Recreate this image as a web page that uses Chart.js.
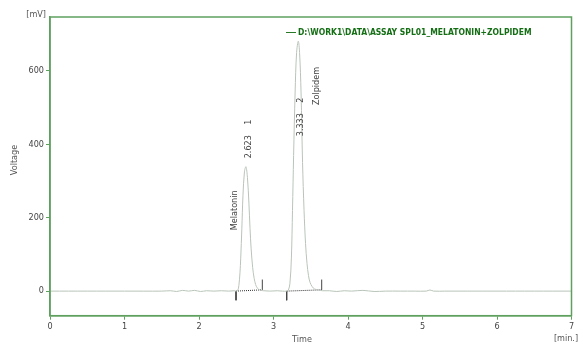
<!DOCTYPE html>
<html>
<head>
<meta charset="utf-8">
<script src="https://cdn.jsdelivr.net/npm/chart.js@4.4.1/dist/chart.umd.min.js"></script>
<style>
  html, body { margin: 0; padding: 0; background: #fff; }
  #wrap { width: 583px; height: 344px; }
</style>
</head>
<body>
<div id="wrap"><canvas id="chrom" width="583" height="344"></canvas></div>
<script>
// Dados do cromatograma (tempo em min, tensão em mV)
const tempos = [0, 0.5, 1.0, 1.5, 1.62, 1.7, 1.78, 1.86, 1.94, 2.02, 2.1, 2.2, 2.3, 2.4, 2.47,
  2.5, 2.52, 2.535, 2.55, 2.56, 2.575, 2.59, 2.61, 2.63, 2.65, 2.67, 2.685, 2.70, 2.72, 2.74, 2.76, 2.78, 2.80, 2.83, 2.87,
  2.95, 3.05, 3.12, 3.18, 3.20, 3.22, 3.24, 3.255, 3.27, 3.29, 3.31, 3.333, 3.35, 3.37, 3.39, 3.41, 3.43, 3.45, 3.47, 3.49, 3.52, 3.55, 3.60, 3.66,
  3.75, 3.85, 3.95, 4.05, 4.2, 4.35, 4.5, 4.7, 4.9, 5.05, 5.1, 5.15, 5.3, 5.6, 6.0, 6.5, 7.0];
const tensoes = [0, 0, 0, 0, 1, -1, 2, 0, 2, -1, 1, 0, 1, 0, 1,
  0, 2, 15, 50, 90, 170, 260, 325, 339, 310, 240, 170, 115, 65, 35, 18, 9, 5, 2, 1,
  0, 1, 0, 0, 3, 20, 90, 220, 370, 540, 650, 681, 650, 540, 350, 220, 130, 75, 42, 24, 12, 6, 3, 1,
  1, -1, 1, 0, 2, -1, 0, 0, 0, 0, 3, 0, 0, 0, 0, 0, 0];

// Integração: início e fim de cada pico
const picoInicio = [2.497, 3.177];
const picoFim = [2.85, 3.647];
const baseInicio = [0, 0];
const baseFim = [3.5, 3.5];

// Rótulos dos picos
const picoTempo = [2.623, 3.333];
const picoNumero = ['1', '2'];
const picoNome = ['Melatonin', 'Zolpidem'];

const xTicks = [0, 1, 2, 3, 4, 5, 6, 7];
const yTicks = [0, 200, 400, 600];
const nomeArquivo = 'D:\\WORK1\\DATA\\ASSAY SPL01_MELATONIN+ZOLPIDEM';

const verde = 'rgb(95,160,95)';
const fonteNarrow = "'Liberation Sans Narrow', 'DejaVu Sans Condensed', Arial, sans-serif";

const sinal = tempos.map((t, i) => ({ x: t, y: tensoes[i] }));

const datasets = [{
  data: sinal,
  borderColor: 'rgb(185,196,185)',
  borderWidth: 1,
  pointRadius: 0,
  tension: 0.35
}];

// linhas de base (pontilhadas) e marcas de início/fim
picoInicio.forEach((ini, i) => {
  datasets.push({
    data: [{ x: ini, y: baseInicio[i] }, { x: picoFim[i], y: baseFim[i] }],
    borderColor: '#333',
    borderWidth: 1,
    borderDash: [1, 1],
    pointRadius: 0
  });
  datasets.push({
    data: [{ x: ini, y: baseInicio[i] }, { x: ini, y: baseInicio[i] - 25 }],
    borderColor: '#444', borderWidth: 1, pointRadius: 0
  });
  datasets.push({
    data: [{ x: picoFim[i], y: baseFim[i] }, { x: picoFim[i], y: baseFim[i] + 28 }],
    borderColor: '#444', borderWidth: 1, pointRadius: 0
  });
});

// Plugin para moldura, textos e legenda
const extras = {
  id: 'extras',
  afterDatasetsDraw(chart) {
    const { ctx, chartArea: a, scales: { x, y } } = chart;
    ctx.save();
    // moldura verde
    ctx.strokeStyle = verde;
    ctx.lineWidth = 1.5;
    ctx.strokeRect(a.left, a.top, a.right - a.left, a.bottom - a.top);

    // legenda
    ctx.strokeStyle = 'rgb(40,120,40)';
    ctx.lineWidth = 1;
    ctx.beginPath();
    ctx.moveTo(286, 32.5);
    ctx.lineTo(296, 32.5);
    ctx.stroke();
    ctx.fillStyle = 'rgb(20,110,20)';
    ctx.font = 'bold 8.5px ' + fonteNarrow;
    ctx.textBaseline = 'middle';
    ctx.textAlign = 'left';
    ctx.fillText(nomeArquivo, 298, 32.5);

    // rótulos verticais dos picos
    ctx.fillStyle = '#444';
    ctx.font = '9px ' + fonteNarrow;
    const numPos = [[0, 362], [-0.01, 422]];
    const nomePos = [[-0.18, 166], [0.2, 507]];
    picoTempo.forEach((t, i) => {
      const txt = t.toFixed(3) + '    ' + picoNumero[i];
      ctx.save();
      ctx.translate(x.getPixelForValue(t + numPos[i][0]) + 3, y.getPixelForValue(numPos[i][1]));
      ctx.rotate(-Math.PI / 2);
      ctx.textBaseline = 'middle';
      ctx.fillText(txt, 0, 0);
      ctx.restore();
      ctx.save();
      ctx.translate(x.getPixelForValue(t + nomePos[i][0]) + 3, y.getPixelForValue(nomePos[i][1]));
      ctx.rotate(-Math.PI / 2);
      ctx.fillText(picoNome[i], 0, 0);
      ctx.restore();
    });

    // unidades e títulos dos eixos
    ctx.fillStyle = '#555';
    ctx.font = '9px ' + fonteNarrow;
    ctx.textAlign = 'right';
    ctx.fillText('[mV]', 46, 15);
    ctx.textAlign = 'center';
    ctx.fillText('[min.]', 566, 339);
    ctx.fillText('Time', 302, 340);
    ctx.save();
    ctx.translate(15, 160);
    ctx.rotate(-Math.PI / 2);
    ctx.fillText('Voltage', 0, 0);
    ctx.restore();
    ctx.restore();
  }
};

new Chart(document.getElementById('chrom'), {
  type: 'line',
  data: { datasets },
  options: {
    responsive: false,
    animation: false,
    layout: { padding: { top: 17, right: 11.5, left: 0, bottom: 0 } },
    plugins: { legend: { display: false }, tooltip: { enabled: false } },
    scales: {
      x: {
        type: 'linear',
        min: 0, max: 7,
        afterBuildTicks: s => { s.ticks = xTicks.map(v => ({ value: v })); },
        afterFit: s => { s.height = 28.3; },
        border: { color: verde, width: 1.5 },
        grid: { drawOnChartArea: false, color: verde, tickLength: 4 },
        ticks: { color: '#444', font: { size: 9, family: fonteNarrow }, padding: 2, maxRotation: 0 }
      },
      y: {
        min: -67, max: 747,
        afterBuildTicks: s => { s.ticks = yTicks.map(v => ({ value: v })); },
        afterFit: s => { s.width = 50; },
        border: { color: verde, width: 1.5 },
        grid: { drawOnChartArea: false, color: verde, tickLength: 4 },
        ticks: { color: '#444', font: { size: 9, family: fonteNarrow }, padding: 2 }
      }
    }
  },
  plugins: [extras]
});
</script>
</body>
</html>
